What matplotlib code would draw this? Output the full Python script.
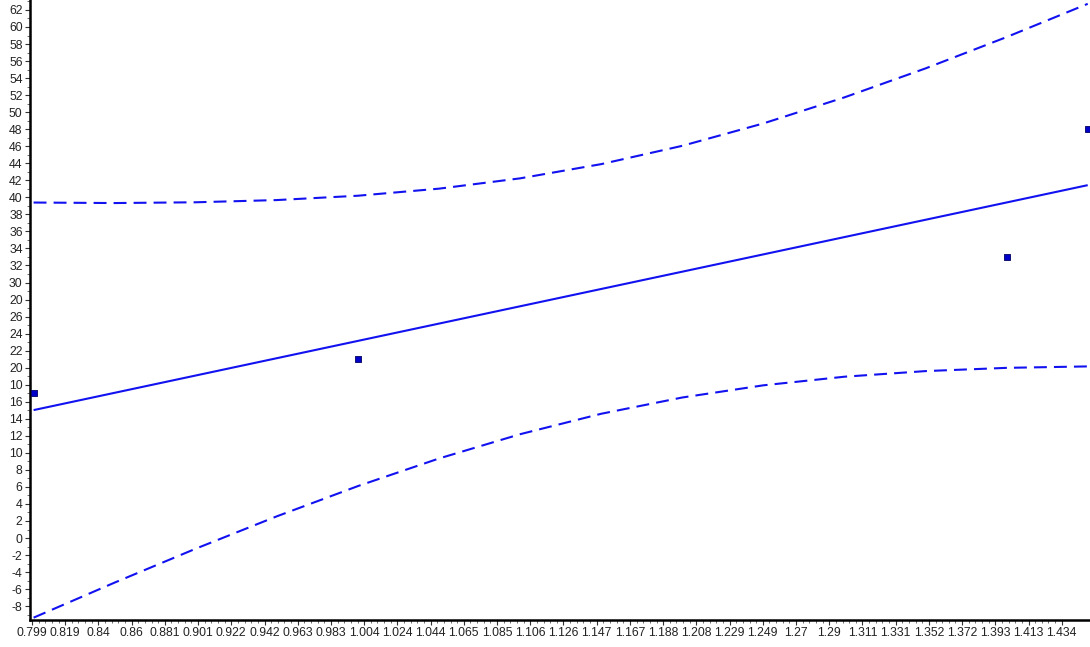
import numpy as np
import matplotlib
matplotlib.use("Agg")
import matplotlib.pyplot as plt
from matplotlib.ticker import FixedLocator

# ---- data ----
pts_x = [0.80, 1.00, 1.40, 1.45]
pts_y = [17, 21, 33, 48]

fit_x = [0.80, 1.45]
fit_y = [15.02, 41.43]

band_x = [0.80, 0.85, 0.90, 0.95, 1.00, 1.05, 1.10, 1.15, 1.20, 1.25, 1.30, 1.35, 1.40, 1.45]
band_upper = [39.39, 39.33, 39.42, 39.68, 40.19, 41.02, 42.23, 43.90, 46.05, 48.68, 51.74, 55.14, 58.82, 62.72]
band_lower = [-9.35, -5.23, -1.25, 2.55, 6.10, 9.34, 12.19, 14.59, 16.50, 17.93, 18.94, 19.60, 19.98, 20.15]

x_tick_labels = ["0.799", "0.819", "0.84", "0.86", "0.881", "0.901", "0.922", "0.942",
                 "0.963", "0.983", "1.004", "1.024", "1.044", "1.065", "1.085", "1.106",
                 "1.126", "1.147", "1.167", "1.188", "1.208", "1.229", "1.249", "1.27",
                 "1.29", "1.311", "1.331", "1.352", "1.372", "1.393", "1.413", "1.434"]
y_tick_values = list(range(-8, 63, 2))
y_tick_labels = ["-8", "-6", "-4", "-2", "0", "2", "4", "6", "8", "10", "12", "14", "16",
                 "10", "20", "22", "24", "26", "20", "30", "32", "34", "36", "38", "40",
                 "42", "44", "46", "48", "50", "52", "54", "56", "58", "60", "62"]

# ---- figure ----
plt.rcParams['font.family'] = ['Liberation Sans', 'DejaVu Sans']
fig = plt.figure(figsize=(10.9, 6.47), dpi=100)
ax = fig.add_axes([0.0271, 0.041, 1 - 0.0271, 1 - 0.041])

blue = "#1212f0"
ax.plot(fit_x, fit_y, color=blue, lw=1.5, solid_capstyle="butt")
ax.plot(band_x, band_upper, color=blue, lw=1.5, linestyle=(0, (6.2, 3.4)))
ax.plot(band_x, band_lower, color=blue, lw=1.5, linestyle=(0, (6.2, 3.4)))
ax.scatter(pts_x, pts_y, marker="s", s=24, color="#0000c8", edgecolors="#000060",
           linewidths=0.6, zorder=5)

ax.set_xlim(0.7975, 1.4514)
ax.set_ylim(-9.68, 63.17)

x_major = np.linspace(0.799, 1.434, len(x_tick_labels))
ax.set_xticks(x_major)
ax.set_xticklabels(x_tick_labels)
ax.xaxis.set_minor_locator(FixedLocator(np.linspace(0.799, 1.434, (len(x_tick_labels) - 1) * 5 + 1)))

ax.set_yticks(y_tick_values)
ax.set_yticklabels(y_tick_labels)
ax.yaxis.set_minor_locator(FixedLocator(np.arange(-9, 63.5, 1)))

ax.tick_params(axis="both", which="major", length=3.5, width=0.8, color="#333333",
               labelsize=8.8, labelcolor="#222222", pad=1.5, direction="out")
ax.tick_params(axis="both", which="minor", length=2, width=0.6, color="#555555", direction="out")

for side in ("top", "right"):
    ax.spines[side].set_visible(False)
for side in ("left", "bottom"):
    ax.spines[side].set_linewidth(1.8)
    ax.spines[side].set_color("black")

fig.savefig("out.png", dpi=100)
